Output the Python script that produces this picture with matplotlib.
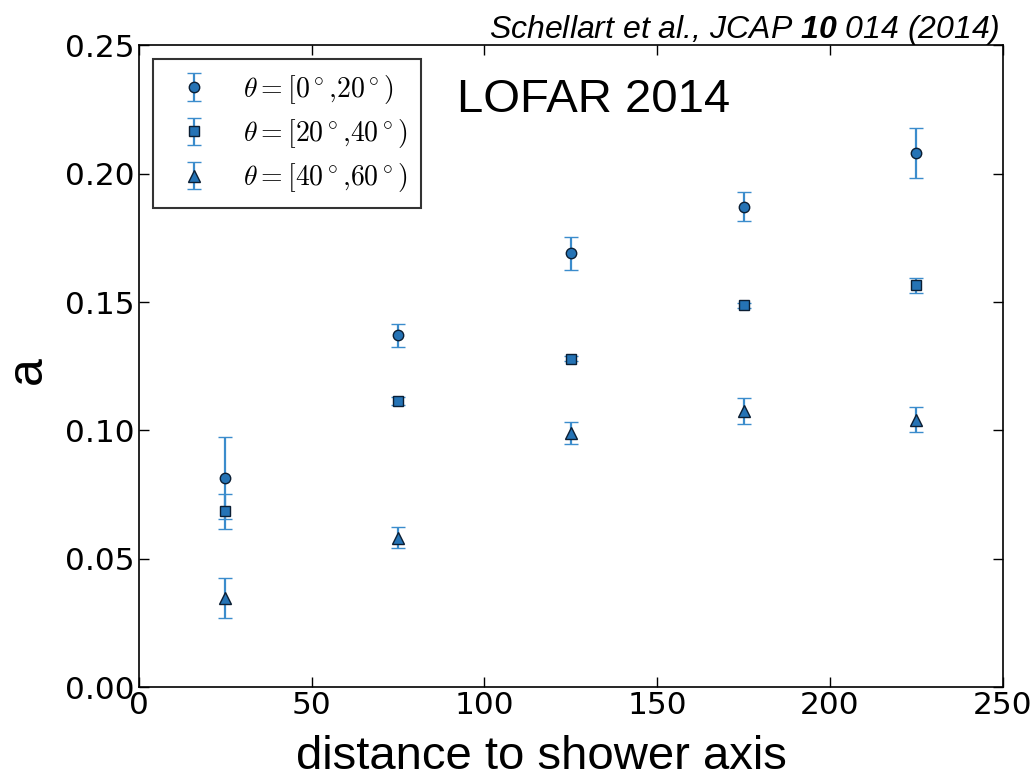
import matplotlib
matplotlib.use("Agg")
import matplotlib.pyplot as plt
from matplotlib.font_manager import FontProperties

# Data: LDF asymmetry parameter a vs. distance to shower axis
distance = [25, 75, 125, 175, 225]

a_0_20 = [0.0814, 0.1370, 0.1690, 0.1871, 0.2080]
err_0_20 = [0.0160, 0.0045, 0.0064, 0.0056, 0.0097]

a_20_40 = [0.0685, 0.1114, 0.1280, 0.1488, 0.1565]
err_20_40 = [0.0068, 0.0015, 0.0010, 0.0010, 0.0030]

a_40_60 = [0.0347, 0.0582, 0.0989, 0.1075, 0.1042]
err_40_60 = [0.0078, 0.0040, 0.0043, 0.0050, 0.0049]

labels = [r"$\theta=[0^\circ{,}20^\circ)$",
          r"$\theta=[20^\circ{,}40^\circ)$",
          r"$\theta=[40^\circ{,}60^\circ)$"]

xticks = [0, 50, 100, 150, 200, 250]
yticks = [0.00, 0.05, 0.10, 0.15, 0.20, 0.25]

plt.rcParams["mathtext.fontset"] = "custom"
plt.rcParams["mathtext.rm"] = "Liberation Sans:italic"
plt.rcParams["mathtext.it"] = "Liberation Sans:italic"
plt.rcParams["mathtext.bf"] = "Liberation Sans:bold:italic"

face = "#2573b5"
edge = "#0b1e33"
ecol = "#3b8ccc"

fig = plt.figure(figsize=(10.36, 7.8), dpi=100)
ax = fig.add_axes([0.134, 0.119, 0.834, 0.823])

series = [(a_0_20, err_0_20, "o", 7.5),
          (a_20_40, err_20_40, "s", 7.5),
          (a_40_60, err_40_60, "^", 8)]
for (vals, errs, mk, ms), lab in zip(series, labels):
    ax.errorbar(distance, vals, yerr=errs, fmt=mk, ms=ms,
                mfc=face, mec=edge, mew=1.0,
                ecolor=ecol, elinewidth=1.6, capsize=5, capthick=1.6,
                label=lab, zorder=3)

ax.set_xlim(0, 250)
ax.set_ylim(0, 0.25)
ax.set_xticks(xticks)
ax.set_yticks(yticks)
ax.set_yticklabels([f"{v:.2f}" for v in yticks])
ax.tick_params(direction="in", length=7, width=1, top=True, right=True,
               labelsize=22.5, pad=3)
for lbl in ax.get_xticklabels() + ax.get_yticklabels():
    lbl.set_fontfamily("DejaVu Sans")
for s in ax.spines.values():
    s.set_linewidth(1.2)
    s.set_color("black")

ax.set_xlabel("distance to shower axis", fontfamily="Liberation Sans",
              fontsize=34)
ax.xaxis.set_label_coords(0.466, -0.1275, transform=ax.transAxes)
ax.xaxis.label.set_va("baseline")
ax.set_ylabel("a", fontfamily="Liberation Sans", fontsize=36)
ax.yaxis.set_label_coords(-0.128, 0.494, transform=ax.transAxes)
ax.yaxis.label.set_va("center")

leg_prop = FontProperties(size=20, math_fontfamily="cm")
leg = ax.legend(loc="upper left", prop=leg_prop, frameon=True,
                fancybox=False, borderpad=0.5, handletextpad=0.75,
                labelspacing=0.4, borderaxespad=0.5, numpoints=1)
leg.get_frame().set_edgecolor("black")
leg.get_frame().set_linewidth(1.5)

ax.text(0.368, 0.8956, "LOFAR 2014", transform=ax.transAxes,
        fontfamily="Liberation Sans", fontsize=34, va="baseline", ha="left")

fig.text(0.965, 0.951, r"Schellart et al., JCAP $\mathbf{10}$ 014 (2014)",
         fontfamily="Liberation Sans", style="italic", fontsize=23,
         ha="right", va="baseline", math_fontfamily="custom")

fig.savefig("out.png", dpi=100)
